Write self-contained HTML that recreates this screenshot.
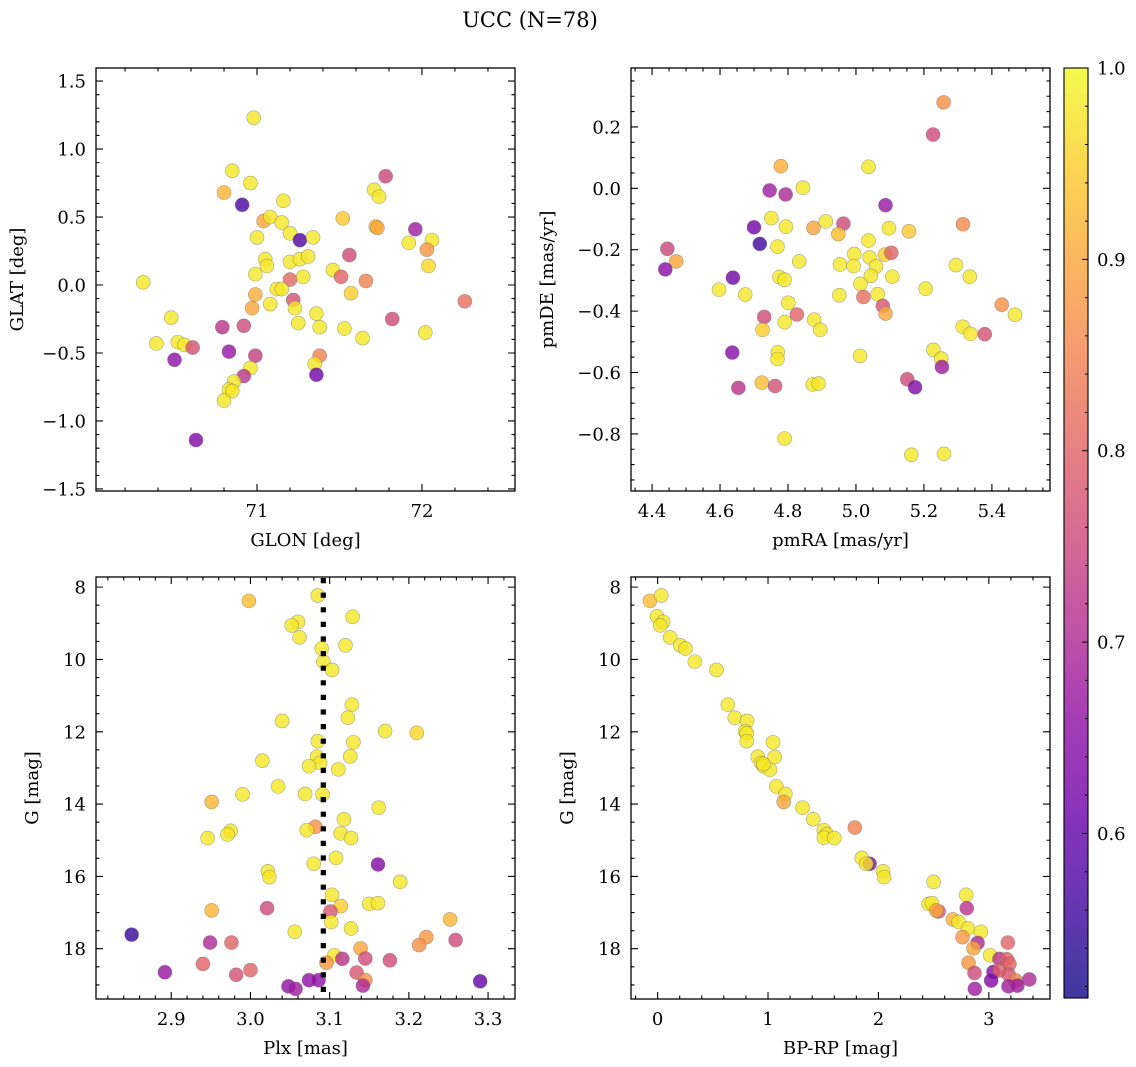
<!DOCTYPE html>
<html><head><meta charset="utf-8">
<style>
html,body{margin:0;padding:0;background:#fff;}
svg{display:block;font-family:"DejaVu Serif","Liberation Serif",serif;}
</style></head>
<body>
<svg id="fig" width="1136" height="1067" viewBox="0 0 1136 1067" xmlns="http://www.w3.org/2000/svg">
<rect width="1136" height="1067" fill="#fff"/>
<text x="530" y="27" font-size="21" text-anchor="middle">UCC (N=78)</text>
<defs>
<linearGradient id="cbgrad" x1="0" y1="1" x2="0" y2="0">
<stop offset="0" stop-color="#0d0887"/><stop offset="0.1" stop-color="#41049d"/><stop offset="0.2" stop-color="#6a00a8"/><stop offset="0.3" stop-color="#8f0da4"/><stop offset="0.4" stop-color="#b12a90"/><stop offset="0.5" stop-color="#cc4778"/><stop offset="0.6" stop-color="#e16462"/><stop offset="0.7" stop-color="#f2844b"/><stop offset="0.8" stop-color="#fca636"/><stop offset="0.9" stop-color="#fcce25"/><stop offset="1" stop-color="#f0f921"/>
</linearGradient>
</defs>
<g id="plots"></g>
</svg>
<script>
// Panel 1: GLON vs GLAT
const p1_glon=[70.98,70.85,70.96,70.80,70.91,71.16,71.04,71.08,71.15,71.20,71.26,71.34,71.00,71.52,71.71,71.74,71.78,71.72,71.96,71.92,72.06,72.03,72.04,71.56,71.05,71.06,71.20,71.26,71.31,70.99,71.20,71.28,71.46,71.51,71.66,70.31,71.12,71.15,70.99,71.57,71.22,71.08,70.97,71.23,71.36,72.26,71.82,70.48,71.25,71.38,71.53,71.64,72.02,70.79,70.92,70.39,70.52,70.56,70.61,70.50,70.83,70.99,71.38,71.35,71.36,70.96,70.92,70.86,70.83,70.85,70.80,70.63,71.73];
const p1_glat=[1.23,0.84,0.75,0.68,0.59,0.62,0.47,0.50,0.46,0.38,0.33,0.35,0.35,0.49,0.70,0.65,0.80,0.43,0.41,0.31,0.33,0.26,0.14,0.22,0.19,0.14,0.17,0.19,0.21,0.08,0.04,0.06,0.11,0.06,0.03,0.02,-0.03,-0.03,-0.07,-0.06,-0.11,-0.14,-0.17,-0.17,-0.21,-0.12,-0.25,-0.24,-0.28,-0.31,-0.32,-0.39,-0.35,-0.31,-0.30,-0.43,-0.42,-0.44,-0.46,-0.55,-0.49,-0.52,-0.52,-0.58,-0.66,-0.61,-0.67,-0.71,-0.77,-0.78,-0.85,-1.14,0.42];
const p1_prob=[0.98,0.98,0.98,0.92,0.57,0.98,0.9,0.98,0.98,0.98,0.58,0.98,0.98,0.94,0.98,0.98,0.75,0.93,0.68,0.98,0.98,0.88,0.96,0.76,0.98,0.98,0.98,0.98,0.98,0.98,0.81,0.98,0.98,0.8,0.85,0.98,0.98,0.98,0.91,0.95,0.77,0.98,0.9,0.98,0.98,0.82,0.76,0.98,0.98,0.98,0.98,0.98,0.98,0.72,0.76,0.98,0.98,0.98,0.77,0.66,0.67,0.74,0.85,0.98,0.62,0.98,0.72,0.98,0.98,0.98,0.98,0.64,0.9];
// Panel 2: pmRA vs pmDE
const p2_pmra=[5.258,5.227,4.779,5.037,4.746,4.793,4.844,5.087,4.751,4.794,4.70,4.717,4.769,4.875,4.911,4.963,4.948,5.037,5.097,5.156,5.315,4.995,5.04,5.085,5.104,4.953,4.993,5.059,5.044,5.107,5.013,5.022,5.064,5.079,5.087,5.205,5.294,5.335,5.429,5.468,5.379,5.314,5.337,5.228,5.251,5.253,5.151,5.174,5.012,4.445,4.471,4.439,4.638,4.597,4.674,4.833,4.775,4.79,4.801,4.73,4.79,4.826,4.877,4.895,4.725,4.951,4.77,4.769,4.636,4.723,4.762,4.654,4.873,4.89,4.79,5.163,5.259];
const p2_pmde=[0.28,0.175,0.072,0.07,-0.007,-0.02,0.002,-0.055,-0.097,-0.125,-0.127,-0.181,-0.19,-0.129,-0.108,-0.115,-0.149,-0.17,-0.13,-0.14,-0.117,-0.214,-0.225,-0.216,-0.21,-0.248,-0.253,-0.254,-0.285,-0.288,-0.311,-0.354,-0.345,-0.383,-0.408,-0.327,-0.25,-0.288,-0.379,-0.412,-0.475,-0.451,-0.474,-0.526,-0.555,-0.582,-0.622,-0.648,-0.546,-0.197,-0.238,-0.264,-0.291,-0.33,-0.346,-0.238,-0.289,-0.298,-0.373,-0.419,-0.436,-0.411,-0.428,-0.461,-0.461,-0.348,-0.534,-0.556,-0.535,-0.633,-0.644,-0.65,-0.639,-0.636,-0.815,-0.868,-0.865];
const p2_prob=[0.87,0.76,0.91,0.98,0.68,0.7,0.98,0.67,0.98,0.98,0.62,0.56,0.98,0.9,0.98,0.76,0.93,0.98,0.98,0.94,0.86,0.98,0.98,0.95,0.8,0.98,0.98,0.98,0.98,0.98,0.98,0.82,0.98,0.78,0.9,0.98,0.98,0.98,0.87,0.98,0.77,0.98,0.98,0.98,0.98,0.68,0.76,0.64,0.98,0.75,0.9,0.65,0.62,0.98,0.98,0.98,0.98,0.98,0.98,0.76,0.98,0.8,0.98,0.98,0.95,0.98,0.98,0.98,0.65,0.93,0.77,0.72,0.98,0.98,0.98,0.98,0.98];
// Panel 3: Plx vs G
const p3_plx=[2.998,3.085,3.129,3.06,3.052,3.062,3.12,3.09,3.092,3.103,3.128,3.123,3.04,3.17,3.21,3.085,3.13,3.084,3.126,3.088,3.074,3.111,3.015,3.035,2.99,3.069,3.091,2.951,3.162,3.118,3.082,3.071,3.114,3.127,2.975,2.971,2.946,3.108,3.08,3.161,3.022,3.024,3.189,3.103,3.114,3.15,3.161,2.951,3.021,3.101,3.102,3.252,3.127,3.056,2.85,3.222,3.213,3.259,2.949,2.976,3.139,3.106,3.116,3.145,3.176,3.096,2.94,2.892,2.982,3.0,3.134,3.145,3.142,3.074,3.086,3.048,3.057,3.29];
const p3_g=[8.38,8.23,8.82,8.96,9.06,9.39,9.61,9.70,10.06,10.29,11.25,11.61,11.70,11.98,12.03,12.26,12.29,12.69,12.68,12.86,12.95,13.04,12.80,13.51,13.73,13.72,13.73,13.94,14.10,14.42,14.63,14.72,14.81,14.94,14.74,14.84,14.94,15.49,15.65,15.67,15.86,16.02,16.15,16.51,16.82,16.76,16.74,16.94,16.88,16.97,17.26,17.19,17.44,17.53,17.61,17.68,17.90,17.76,17.83,17.83,17.99,18.18,18.28,18.27,18.32,18.39,18.42,18.65,18.72,18.59,18.66,18.87,19.02,18.87,18.87,19.04,19.11,18.90];
const p3_prob=[0.93,0.98,0.98,0.98,0.98,0.98,0.98,0.98,0.98,0.98,0.98,0.98,0.98,0.98,0.96,0.98,0.98,0.98,0.98,0.98,0.98,0.98,0.98,0.98,0.98,0.98,0.98,0.92,0.98,0.98,0.87,0.98,0.98,0.98,0.98,0.98,0.98,0.98,0.98,0.64,0.98,0.98,0.98,0.98,0.95,0.98,0.98,0.92,0.76,0.78,0.98,0.92,0.98,0.98,0.55,0.88,0.87,0.76,0.7,0.8,0.9,0.98,0.72,0.76,0.76,0.88,0.8,0.67,0.77,0.8,0.78,0.87,0.7,0.66,0.66,0.66,0.68,0.6];
// Panel 4: BP-RP vs G
const p4_bprp=[-0.07,0.033,-0.006,0.05,0.024,0.114,0.205,0.253,0.337,0.533,0.636,0.699,0.81,0.792,0.807,0.807,1.045,1.06,0.907,0.937,0.958,1.018,0.958,1.075,1.157,1.142,1.313,1.41,1.506,1.533,1.506,1.6,1.786,1.849,1.92,1.889,2.042,2.051,2.5,2.455,2.485,2.545,2.524,2.795,2.8,2.675,2.726,2.81,2.928,2.762,2.898,3.172,2.861,3.012,3.096,3.163,3.187,2.816,2.87,3.042,3.096,3.178,3.021,3.244,3.367,3.178,3.259,2.873];
const p4_g=[8.38,8.23,8.81,8.96,9.06,9.39,9.61,9.70,10.06,10.29,11.25,11.61,11.70,11.99,12.04,12.26,12.29,12.70,12.69,12.86,12.95,13.05,12.89,13.51,13.72,13.94,14.10,14.42,14.72,14.83,14.93,14.94,14.65,15.49,15.65,15.65,15.86,16.02,16.15,16.76,16.74,16.97,16.94,16.51,16.88,17.19,17.26,17.44,17.53,17.68,17.84,17.83,17.99,18.18,18.28,18.29,18.42,18.39,18.67,18.64,18.60,18.71,18.88,18.88,18.85,19.04,19.02,19.11];
const p4_prob=[0.93,0.98,0.98,0.98,0.98,0.98,0.98,0.98,0.98,0.98,0.98,0.98,0.98,0.98,0.98,0.98,0.98,0.98,0.98,0.98,0.98,0.98,0.98,0.98,0.98,0.9,0.98,0.98,0.98,0.98,0.98,0.98,0.85,0.98,0.64,0.98,0.98,0.98,0.98,0.98,0.98,0.78,0.9,0.98,0.72,0.92,0.98,0.98,0.98,0.88,0.7,0.8,0.9,0.98,0.72,0.8,0.8,0.88,0.76,0.65,0.8,0.78,0.64,0.85,0.7,0.68,0.68,0.68];
// Tick labels
const p1_xticks=[71,72], p1_yticks=[-1.5,-1.0,-0.5,0.0,0.5,1.0,1.5];
const p2_xticks=[4.4,4.6,4.8,5.0,5.2,5.4], p2_yticks=[-0.8,-0.6,-0.4,-0.2,0.0,0.2];
const p3_xticks=[2.9,3.0,3.1,3.2,3.3], p3_yticks=[8,10,12,14,16,18];
const p4_xticks=[0,1,2,3], p4_yticks=[8,10,12,14,16,18];
const cb_ticks=[0.6,0.7,0.8,0.9,1.0];
const plxLine=3.092;

const NS="http://www.w3.org/2000/svg";
const root=document.getElementById('plots');
const VMIN=0.514, VMAX=1.0;
const FS=18;
const stops=["#0d0887","#41049d","#6a00a8","#8f0da4","#b12a90","#cc4778","#e16462","#f2844b","#fca636","#fcce25","#f0f921"].map(h=>[parseInt(h.substr(1,2),16),parseInt(h.substr(3,2),16),parseInt(h.substr(5,2),16)]);
function plasma(v){let t=(v-VMIN)/(VMAX-VMIN);t=Math.max(0,Math.min(1,t))*10;const i=Math.min(9,Math.floor(t)),f=t-i;const a=stops[i],b=stops[i+1];return `rgb(${a.map((x,k)=>Math.round(x+(b[k]-x)*f)).join(',')})`;}
function mk(tag,attrs,parent){const e=document.createElementNS(NS,tag);for(const k in attrs)e.setAttribute(k,attrs[k]);(parent||root).appendChild(e);return e;}
function fmt(v,d){return v.toFixed(d).replace('-','\u2212');}

function panel(o){
  const g=mk('g',{});
  
  
  const sx=v=>o.x0+(v-o.xmin)/(o.xmax-o.xmin)*(o.x1-o.x0);
  const sy=o.invert? v=>o.y0+(v-o.ymin)/(o.ymax-o.ymin)*(o.y1-o.y0) : v=>o.y1-(v-o.ymin)/(o.ymax-o.ymin)*(o.y1-o.y0);
  const pg=mk('g',{},g);
  
  
  for(let i=0;i<o.xs.length;i++){
    const c=mk('circle',{cx:sx(o.xs[i]),cy:sy(o.ys[i]),r:7,fill:plasma(o.cs[i]),'fill-opacity':0.8,stroke:'#666','stroke-opacity':0.55,'stroke-width':0.6},pg);
    
    
  }
  if(o.vline!==undefined){
    const X=sx(o.vline);
    let dd='';
    for(let y=o.y0+1;y<o.y1-2;y+=14.6){dd+=`M${X-2.6},${y}h5.2v5.2h-5.2z`;}
    const l=mk('path',{d:dd,fill:'#000'},g);
    
    
  }
  const fr=mk('rect',{x:o.x0,y:o.y0,width:o.x1-o.x0,height:o.y1-o.y0,fill:'none',stroke:'#000','stroke-width':1.3},g);
  
  
  let d='';
  const lo=(a,b)=>Math.min(a,b), hi=(a,b)=>Math.max(a,b);
  for(let v=Math.ceil(lo(o.xmin,o.xmax)/o.xminor-1e-9)*o.xminor; v<=hi(o.xmin,o.xmax)+1e-9; v+=o.xminor){
    const X=sx(v); const maj=Math.abs(v/o.xmajor-Math.round(v/o.xmajor))<1e-6; const L=maj?7:3.5;
    d+=`M${X},${o.y1}v${-L}M${X},${o.y0}v${L}`;
  }
  for(let v=Math.ceil(lo(o.ymin,o.ymax)/o.yminor-1e-9)*o.yminor; v<=hi(o.ymin,o.ymax)+1e-9; v+=o.yminor){
    const Y=sy(v); const maj=Math.abs(v/o.ymajor-Math.round(v/o.ymajor))<1e-6; const L=maj?7:3.5;
    d+=`M${o.x0},${Y}h${L}M${o.x1},${Y}h${-L}`;
  }
  const tk=mk('path',{d:d,stroke:'#000','stroke-width':1.1,fill:'none'},g);
  
  
  o.xticks.forEach(v=>{const t=mk('text',{x:sx(v),y:o.y1+26,'font-size':FS,'text-anchor':'middle'},g);t.textContent=fmt(v,o.xd);
    
    });
  o.yticks.forEach(v=>{const t=mk('text',{x:o.x0-10,y:sy(v)+6.5,'font-size':FS,'text-anchor':'end'},g);t.textContent=fmt(v,o.yd);
    
    });
  const xl=mk('text',{x:(o.x0+o.x1)/2,y:o.y1+55,'font-size':FS,'text-anchor':'middle'},g);xl.textContent=o.xlabel;
  
  
  const yx=o.x0-o.ylabOff, yy=(o.y0+o.y1)/2;
  const yl=mk('text',{x:yx,y:yy,'font-size':FS,'text-anchor':'middle',transform:`rotate(-90 ${yx} ${yy})`},g);yl.textContent=o.ylabel;
  
  
}

panel({name:'glon-glat-panel',x0:96,x1:515,y0:68,y1:491,xmin:70.024,xmax:72.564,ymin:-1.515,ymax:1.596,xs:p1_glon,ys:p1_glat,cs:p1_prob,xmajor:1,xminor:0.2,ymajor:0.5,yminor:0.1,xticks:p1_xticks,yticks:p1_yticks,xd:0,yd:1,xlabel:'GLON [deg]',ylabel:'GLAT [deg]',ylabOff:73});
panel({name:'pm-panel',x0:631,x1:1050,y0:68,y1:491,xmin:4.338,xmax:5.571,ymin:-0.986,ymax:0.392,xs:p2_pmra,ys:p2_pmde,cs:p2_prob,xmajor:0.2,xminor:0.05,ymajor:0.2,yminor:0.05,xticks:p2_xticks,yticks:p2_yticks,xd:1,yd:1,xlabel:'pmRA [mas/yr]',ylabel:'pmDE [mas/yr]',ylabOff:78});
panel({name:'plx-g-panel',x0:96,x1:515,y0:577,y1:999,xmin:2.805,xmax:3.334,ymin:7.72,ymax:19.39,invert:true,xs:p3_plx,ys:p3_g,cs:p3_prob,xmajor:0.1,xminor:0.02,ymajor:2,yminor:0.5,xticks:p3_xticks,yticks:p3_yticks,xd:1,yd:0,xlabel:'Plx [mas]',ylabel:'G [mag]',ylabOff:58,vline:plxLine});
panel({name:'cmd-panel',x0:631,x1:1050,y0:577,y1:999,xmin:-0.241,xmax:3.554,ymin:7.72,ymax:19.39,invert:true,xs:p4_bprp,ys:p4_g,cs:p4_prob,xmajor:1,xminor:0.2,ymajor:2,yminor:0.5,xticks:p4_xticks,yticks:p4_yticks,xd:0,yd:0,xlabel:'BP-RP [mag]',ylabel:'G [mag]',ylabOff:58});

// Colorbar
(function(){
  const x0=1064,x1=1088,y0=68,y1=998;
  const g=mk('g',{});
  
  
  mk('rect',{x:x0,y:y0,width:x1-x0,height:y1-y0,fill:'url(#cbgrad)','fill-opacity':0.8},g);
  mk('rect',{x:x0,y:y0,width:x1-x0,height:y1-y0,fill:'none',stroke:'#000','stroke-width':1.1},g);
  const sy=v=>y1-(v-VMIN)/(VMAX-VMIN)*(y1-y0);
  let d='';
  for(let k=Math.ceil(VMIN*50);k<=50;k++){const v=k/50;const Y=sy(v);const maj=k%5===0;d+=`M${x1},${Y}h${maj?-6:-3}`;}
  mk('path',{d:d,stroke:'#000','stroke-width':1},g);
  cb_ticks.forEach(v=>{const t=mk('text',{x:x1+9,y:sy(v)+6.5,'font-size':FS},g);t.textContent=v.toFixed(1);
    
    });
})();
</script>
</body></html>
